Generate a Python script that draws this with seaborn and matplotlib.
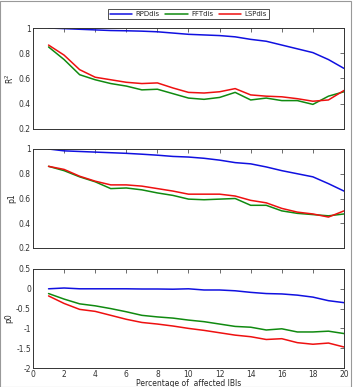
import seaborn as sns
import matplotlib.pyplot as plt
import numpy as np
import pandas as pd

pct = list(range(1, 21))

r2_rpd = [1.0, 0.995, 0.99, 0.985, 0.98, 0.978, 0.975, 0.97, 0.96, 0.95,
          0.945, 0.94, 0.93, 0.91, 0.895, 0.865, 0.835, 0.805, 0.75, 0.68]
r2_fft = [0.85, 0.75, 0.63, 0.59, 0.56, 0.54, 0.51, 0.515, 0.48, 0.445,
          0.435, 0.45, 0.49, 0.43, 0.445, 0.425, 0.425, 0.395, 0.46, 0.495]
r2_lsp = [0.865, 0.785, 0.67, 0.61, 0.59, 0.57, 0.56, 0.565, 0.525, 0.49,
          0.485, 0.495, 0.52, 0.47, 0.46, 0.455, 0.44, 0.42, 0.43, 0.505]

p1_rpd = [1.0, 0.985, 0.98, 0.975, 0.97, 0.965, 0.958, 0.95, 0.94, 0.935,
          0.925, 0.91, 0.89, 0.88, 0.855, 0.825, 0.8, 0.775, 0.72, 0.66]
p1_fft = [0.86, 0.825, 0.775, 0.735, 0.68, 0.685, 0.67, 0.645, 0.625, 0.595,
          0.59, 0.595, 0.6, 0.545, 0.545, 0.5, 0.48, 0.47, 0.46, 0.475]
p1_lsp = [0.86, 0.835, 0.78, 0.74, 0.71, 0.71, 0.7, 0.68, 0.66, 0.635,
          0.635, 0.635, 0.62, 0.585, 0.565, 0.52, 0.49, 0.475, 0.45, 0.5]

p0_rpd = [0.0, 0.02, 0.0, 0.0, 0.0, 0.0, -0.005, -0.005, -0.01, 0.0,
          -0.03, -0.03, -0.05, -0.09, -0.12, -0.13, -0.16, -0.21, -0.3, -0.35]
p0_fft = [-0.12, -0.26, -0.38, -0.43, -0.5, -0.58, -0.67, -0.71, -0.74, -0.79,
          -0.83, -0.89, -0.95, -0.97, -1.04, -1.01, -1.09, -1.09, -1.07, -1.13]
p0_lsp = [-0.18, -0.37, -0.52, -0.57, -0.67, -0.77, -0.85, -0.89, -0.94, -1.0,
          -1.05, -1.11, -1.17, -1.21, -1.28, -1.26, -1.36, -1.4, -1.37, -1.47]

methods = ['RPDdis', 'FFTdis', 'LSPdis']
colors = {'RPDdis': '#1010e0', 'FFTdis': '#108a10', 'LSPdis': '#ee1010'}

def long_df(a, b, c):
    return pd.DataFrame({'pct': pct * 3,
                         'val': a + b + c,
                         'method': np.repeat(methods, len(pct))})

panels = [
    (long_df(r2_rpd, r2_fft, r2_lsp), 'R$^2$', (0.2, 1.0), np.arange(0.2, 1.01, 0.2)),
    (long_df(p1_rpd, p1_fft, p1_lsp), 'p1', (0.2, 1.0), np.arange(0.2, 1.01, 0.2)),
    (long_df(p0_rpd, p0_fft, p0_lsp), 'p0', (-2.0, 0.5), np.arange(-2, 0.51, 0.5)),
]

sns.set_style('white')
plt.rcParams['font.family'] = ['DejaVu Sans']

fig = plt.figure(figsize=(3.56, 3.87), dpi=100)
left, width = 33 / 356, 311 / 356
tops = [28, 149, 269]
bots = [129, 248, 368]

for i, (df, ylab, ylim, yt) in enumerate(panels):
    ax = fig.add_axes([left, 1 - bots[i] / 387, width, (bots[i] - tops[i]) / 387])
    sns.lineplot(data=df, x='pct', y='val', hue='method', palette=colors,
                 linewidth=1.1, ax=ax, legend=(i == 0))
    ax.set_xlim(0, 20)
    ax.set_ylim(*ylim)
    ax.set_xticks(range(0, 21, 2))
    ax.set_yticks(yt)
    ax.set_yticklabels(['%g' % v for v in np.round(yt, 2)])
    ax.tick_params(direction='in', length=3, width=0.5, labelsize=5.5,
                   top=True, right=True, pad=1.5, colors='#333333')
    for s in ax.spines.values():
        s.set_linewidth(0.7)
        s.set_color('#333333')
    ax.set_ylabel(ylab, fontsize=5.5, labelpad=2)
    if i < 2:
        ax.set_xticklabels([])
        ax.set_xlabel('')
    else:
        ax.set_xlabel('Percentage of  affected IBIs', fontsize=5.5, labelpad=0)
    if i == 0:
        leg = ax.legend(loc='lower center', bbox_to_anchor=(0.5, 1.09), ncol=3,
                        fontsize=5, frameon=True, fancybox=False,
                        handlelength=3.2, columnspacing=0.8, handletextpad=0.5,
                        borderpad=0.25, borderaxespad=0, title=None)
        leg.get_frame().set_edgecolor('black')
        leg.get_frame().set_linewidth(0.6)

fig.patches.append(plt.Rectangle((0.001, 0.001), 0.985, 0.997, transform=fig.transFigure,
                                 fill=False, edgecolor='#999999', linewidth=0.8))
fig.savefig('out.png', dpi=100)
